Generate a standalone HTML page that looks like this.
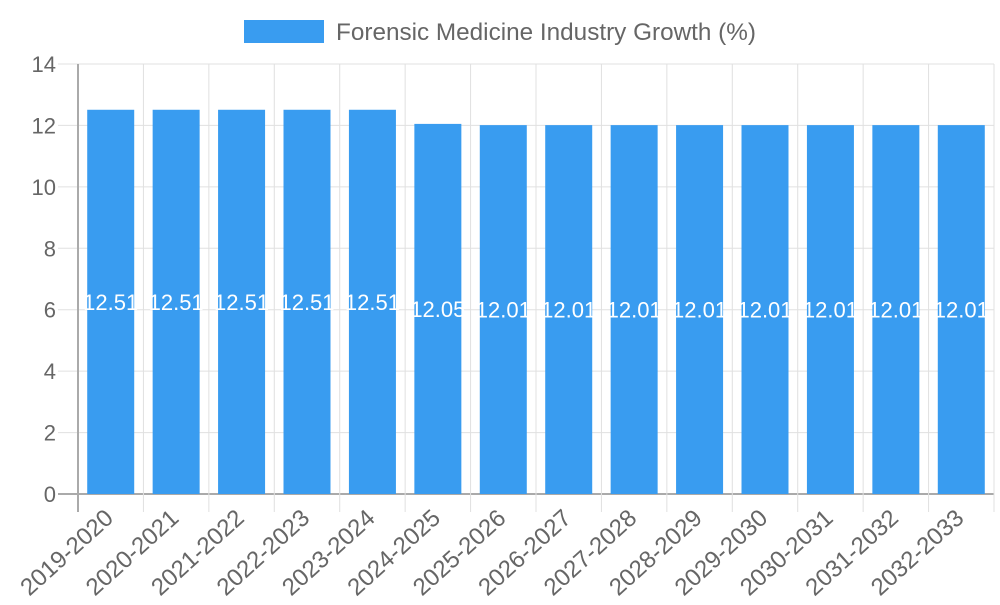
<!DOCTYPE html>
<html><head><meta charset="utf-8"><style>
body{margin:0;background:#fff;}
svg{font-family:"Liberation Sans",sans-serif;}
</style></head><body>
<svg id="chart" width="1000" height="600">
<g>
<rect x="244" y="20" width="80" height="23" fill="#399cf0"/>
<text x="336" y="40" font-size="24.3" fill="#666">Forensic Medicine Industry Growth (%)</text>
</g>
<g id="grid"></g>
<g id="bars"></g>
<g id="axes"></g>
</svg>
<script>
const categories=["2019-2020","2020-2021","2021-2022","2022-2023","2023-2024","2024-2025","2025-2026","2026-2027","2027-2028","2028-2029","2029-2030","2030-2031","2031-2032","2032-2033"];
const values=[12.51,12.51,12.51,12.51,12.51,12.05,12.01,12.01,12.01,12.01,12.01,12.01,12.01,12.01];
const yTicks=[0,2,4,6,8,10,12,14];
const NS="http://www.w3.org/2000/svg";
const L=78,R=994,T=64,B=494,yMax=14;
const step=(R-L)/categories.length;
const y=v=>B-(v/yMax)*(B-T);
const x=i=>L+i*step;
function mk(tag,attrs,parent){const e=document.createElementNS(NS,tag);for(const k in attrs)e.setAttribute(k,attrs[k]);parent.appendChild(e);return e;}
const grid=document.getElementById('grid'),bars=document.getElementById('bars'),axes=document.getElementById('axes');
yTicks.forEach(t=>{
 const l=mk('line',{x1:58,x2:R,y1:y(t),y2:y(t),stroke:t===0?'#aaa':'#e0e0e0','stroke-width':t===0?2:1},grid);
 
 
 const tx=mk('text',{x:56,y:y(t)+8,'text-anchor':'end','font-size':22,fill:'#666'},axes);
 tx.textContent=t;
 
 
});
for(let i=1;i<=categories.length;i++){
 const l=mk('line',{x1:x(i),x2:x(i),y1:T,y2:B+18,stroke:'#e0e0e0','stroke-width':1},grid);
 
 
}
const ax=mk('line',{x1:L,x2:L,y1:T,y2:B+18,stroke:'#aaa','stroke-width':2},axes);


const bw=47;
values.forEach((v,i)=>{
 const cx=x(i)+step/2;
 const r=mk('rect',{x:cx-bw/2,y:y(v),width:bw,height:B-y(v),fill:'#399cf0'},bars);
 
 
 const t=mk('text',{x:cx,y:(y(v)+B)/2+8,'text-anchor':'middle','font-size':22,fill:'#fff'},bars);
 t.textContent=v.toFixed(2);
 
 
 const ax0=cx+4,ay0=B+26;
 const xl=mk('text',{x:ax0,y:ay0,'text-anchor':'end','font-size':24,fill:'#666',transform:`rotate(-42 ${ax0} ${ay0})`},axes);
 xl.textContent=categories[i];
 
 
});
</script>
</body></html>
